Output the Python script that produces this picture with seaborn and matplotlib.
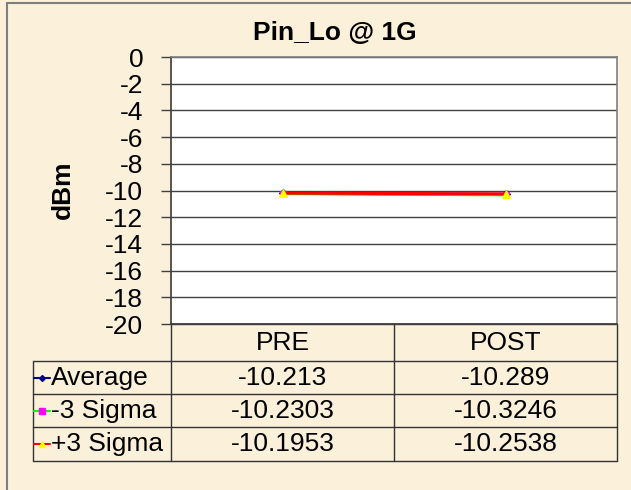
import matplotlib
matplotlib.use("Agg")
import matplotlib.pyplot as plt
import matplotlib.patches as patches
import seaborn as sns

# data
categories = ["PRE", "POST"]
series_names = ["Average", "-3 Sigma", "+3 Sigma"]
average = [-10.213, -10.289]
minus_3_sigma = [-10.2303, -10.3246]
plus_3_sigma = [-10.1953, -10.2538]
y_ticks = list(range(0, -21, -2))

sns.set_theme(style="white")
plt.rcParams['font.family'] = ['Liberation Sans', 'DejaVu Sans']
plt.rcParams['text.color'] = 'black'

bg = '#FBF0D9'
W, H = 631, 490
fig = plt.figure(figsize=(W / 100, H / 100), dpi=100, facecolor=bg)

# outer chart frame (top and left edge visible)
fig.patches.append(patches.Rectangle((7 / W, -0.2), 1.3, 1.2 - 3 / H, transform=fig.transFigure,
                                     fill=False, edgecolor='#7f7f7f', linewidth=1.5))

# plot area in pixels
left, right, top, bottom = 171, 617, 57, 324
ax = fig.add_axes([left / W, 1 - bottom / H, (right - left) / W, (bottom - top) / H])
ax.set_facecolor('white')

styles = [
    (average, dict(color='#000080', marker='D', markersize=4, markerfacecolor='#000080', markeredgecolor='#000080')),
    (minus_3_sigma, dict(color='#00FF00', marker='s', markersize=5, markerfacecolor='#FF00FF', markeredgecolor='#FF00FF')),
    (plus_3_sigma, dict(color='#FF0000', marker='^', markersize=6, markerfacecolor='#FFFF00', markeredgecolor='#FFFF00')),
]
for name, (vals, st) in zip(series_names, styles):
    sns.lineplot(x=categories, y=vals, sort=False, ax=ax, linewidth=2.2, label=name, **st)
ax.get_legend().remove()

ax.set_xlim(-0.5, 1.5)
ax.set_ylim(-20, 0)
ax.set_yticks(y_ticks)
ax.set_yticklabels([str(t) for t in y_ticks])
ax.set_xticks([])
ax.tick_params(axis='y', direction='out', length=7, width=1, color='#404040', pad=13,
               labelsize=19, labelcolor='black', left=True)
ax.grid(axis='y', color='#404040', linewidth=1)
ax.grid(axis='x', visible=False)
for s in ['top', 'right']:
    ax.spines[s].set_color('#808080')
    ax.spines[s].set_linewidth(1.2)
ax.spines['left'].set_color('#404040')
ax.spines['bottom'].set_color('#404040')
ax.set_xlabel('')
ax.set_ylabel('')

fig.text(335 / W, 1 - 33 / H, "Pin_Lo @ 1G", ha='center', va='center', fontsize=19,
         fontweight='bold', color='black')
fig.text(63 / W, 1 - 190 / H, "dBm", ha='center', va='center', rotation=90, fontsize=19,
         fontweight='bold', color='black')


# data table under the plot, drawn in pixel positions mapped to axes coords
def ax_x(px):
    return (px - left) / (right - left)


def ax_y(py):
    return (bottom - py) / (bottom - top)


tab_left = 33
mid = (left + right) / 2
row_edges = [324, 361, 394, 427, 461]
line_kw = dict(transform=ax.transAxes, clip_on=False, color='#333333', linewidth=1)
for i, ry in enumerate(row_edges):
    x0 = left if i == 0 else tab_left
    ax.plot([ax_x(x0), ax_x(right)], [ax_y(ry), ax_y(ry)], **line_kw)
ax.plot([ax_x(tab_left)] * 2, [ax_y(row_edges[1]), ax_y(row_edges[-1])], **line_kw)
for vx in (left, mid, right):
    ax.plot([ax_x(vx)] * 2, [ax_y(row_edges[0]), ax_y(row_edges[-1])], **line_kw)

col_centers = [(left + mid) / 2, (mid + right) / 2]
text_kw = dict(transform=ax.transAxes, fontsize=19, color='black', va='center', clip_on=False)
hy = (row_edges[0] + row_edges[1]) / 2
for cx, cat in zip(col_centers, categories):
    ax.text(ax_x(cx), ax_y(hy), cat, ha='center', **text_kw)

for i, (name, (vals, st)) in enumerate(zip(series_names, styles)):
    yc = (row_edges[i + 1] + row_edges[i + 2]) / 2
    ya = ax_y(yc)
    ax.text(ax_x(51), ya, name, ha='left', **text_kw)
    for cx, v in zip(col_centers, vals):
        ax.text(ax_x(cx), ya, f"{v:g}", ha='center', **text_kw)
    # legend key
    ax.plot([ax_x(34), ax_x(50)], [ya, ya], transform=ax.transAxes, clip_on=False,
            color=st['color'], linewidth=1.5)
    ax.plot([ax_x(42)], [ya], transform=ax.transAxes, clip_on=False, linestyle='none',
            marker=st['marker'], markersize=st['markersize'] - 1,
            markerfacecolor=st['markerfacecolor'], markeredgecolor=st['markeredgecolor'])

fig.savefig("out.png", dpi=100, facecolor=bg)
